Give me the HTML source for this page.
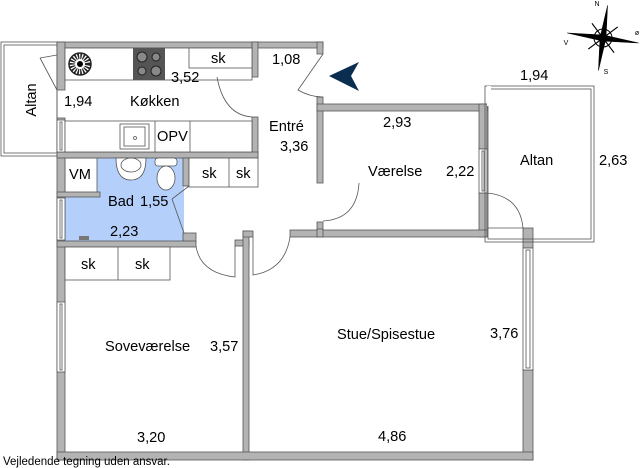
<!DOCTYPE html>
<html><head><meta charset="utf-8"><style>
body{margin:0;background:#fff;}
svg{display:block;font-family:"Liberation Sans",Arial,sans-serif;}
.w{fill:#b3b3b3;stroke:#555;stroke-width:0.8}
.t{fill:none;stroke:#555;stroke-width:0.8}
.f{fill:#fff;stroke:#555;stroke-width:0.8}
text{font-size:14.6px;fill:#000}
</style></head><body>
<svg width="640" height="468" viewBox="0 0 640 468" xmlns="http://www.w3.org/2000/svg">
<rect x="1" y="42" width="56" height="114" class="f"/>
<rect x="4" y="45" width="53" height="108" class="t"/>
<text x="36" y="100" transform="rotate(-90 36 100)" text-anchor="middle">Altan</text>
<line x1="57" y1="55" x2="40" y2="58" class="t"/>
<path d="M40 58 L57 90" class="t"/>
<rect x="65" y="158" width="119" height="83" fill="#b4d0fa"/>
<rect x="65" y="158" width="32" height="35" class="f"/>
<rect x="57" y="42" width="201" height="6" class="w"/>
<rect x="252" y="42" width="71" height="6" class="w"/>
<rect x="57" y="42" width="8" height="48" class="w"/>
<rect x="57" y="118" width="8" height="342" class="w"/>
<rect x="252" y="42" width="6" height="35" class="w"/>
<rect x="252" y="117" width="6" height="41" class="w"/>
<rect x="57" y="152" width="201" height="6" class="w"/>
<rect x="57" y="192" width="43" height="5" class="w"/>
<rect x="183" y="158" width="6" height="28" class="w"/>
<rect x="183" y="233" width="13" height="9" class="w"/>
<rect x="57" y="241" width="139" height="6" class="w"/>
<rect x="317" y="42" width="6" height="12" class="w"/>
<rect x="317" y="97" width="6" height="86" class="w"/>
<rect x="317" y="222" width="6" height="14" class="w"/>
<rect x="317" y="104" width="170" height="7" class="w"/>
<rect x="479" y="104" width="8" height="45" class="w"/>
<rect x="479" y="193" width="8" height="44" class="w"/>
<rect x="290" y="230" width="197" height="7" class="w"/>
<rect x="317" y="229" width="6" height="8" class="w"/>
<rect x="235" y="240" width="14" height="6" class="w"/>
<rect x="243" y="231" width="6" height="229" class="w"/>
<rect x="243" y="231" width="10" height="6" class="w"/>
<rect x="523" y="228" width="10" height="20" class="w"/>
<rect x="523" y="370" width="10" height="90" class="w"/>
<rect x="57" y="452" width="476" height="8" class="w"/>
<rect x="57" y="120" width="8" height="32" class="f"/><rect x="60" y="122" width="2" height="28" class="t"/>
<rect x="57" y="198" width="8" height="42" class="f"/><rect x="60" y="200" width="2" height="38" class="t"/>
<rect x="57" y="302" width="8" height="70" class="f"/><rect x="60" y="304" width="2" height="66" class="t"/>
<rect x="479" y="149" width="8" height="44" class="f"/><rect x="482" y="151" width="2" height="40" class="t"/>
<rect x="523" y="248" width="10" height="122" class="f"/><rect x="526" y="250" width="4" height="118" class="t"/>
<rect x="485" y="86" width="109" height="156" class="t"/>
<rect x="488" y="89" width="103" height="150" class="t"/>
<rect x="487" y="86" width="4" height="20" fill="#fff"/>
<rect x="65" y="48" width="187" height="32" class="f"/>
<rect x="189" y="48" width="63" height="20" class="f"/>
<rect x="133" y="48" width="32" height="32" fill="#555"/>
<circle cx="142" cy="57" r="5" fill="#888" stroke="#222"/><circle cx="156" cy="57" r="4" fill="#888" stroke="#222"/>
<circle cx="142" cy="71" r="4" fill="#888" stroke="#222"/><circle cx="156" cy="71" r="5" fill="#888" stroke="#222"/>
<circle cx="80" cy="64" r="11" fill="#fff" stroke="#222" stroke-width="1.5"/>
<circle cx="80" cy="64" r="8" fill="none" stroke="#222" stroke-width="6" stroke-dasharray="1.5 1.2"/>
<circle cx="80" cy="64" r="3" fill="#000"/>
<rect x="65" y="121" width="187" height="31" class="f"/>
<rect x="120" y="124" width="29" height="25" class="f"/><rect x="124" y="127" width="21" height="19" class="t"/>
<circle cx="135" cy="138" r="1.5" class="t"/>
<line x1="155" y1="121" x2="155" y2="152" class="t"/><line x1="190" y1="121" x2="190" y2="152" class="t"/>
<path d="M116 158 L146 158 Q146 180 131 180 Q116 180 116 158Z" class="f"/>
<ellipse cx="131" cy="165" rx="10" ry="7" class="t"/>
<rect x="155" y="158" width="22" height="8" rx="3" class="f"/>
<ellipse cx="166" cy="178" rx="9" ry="12" class="f"/>
<rect x="189" y="158" width="69" height="29" class="f"/>
<line x1="229" y1="158" x2="229" y2="187" class="t"/>
<rect x="65" y="247" width="105" height="33" class="f"/><line x1="118" y1="247" x2="118" y2="280" class="t"/>
<rect x="79" y="236" width="10" height="4" fill="#777"/>
<path d="M217 77 Q224 115 252 117" class="t"/>
<path d="M323 54 L298 90 Q310 97 323 97" class="t"/>
<path d="M189 186 L172 199 L184 233" class="t"/>
<path d="M196 246 Q200 273 235 277 L235 246" class="t"/>
<path d="M253 237 L253 275 Q285 270 290 237" class="t"/>
<path d="M359 183 Q357 219 323 221" class="t"/>
<path d="M487 193 Q520 196 523 228 L487 228" class="t"/>
<path d="M359 62 L329 76 L359 91 L351 76Z" fill="#0b2d4f"/>
<g transform="translate(603,38) rotate(8)" fill="#000" stroke="#000">
<path d="M0 -33 L3 0 L0 33 L-3 0Z" stroke-width="0.5"/>
<path d="M-36 0 L0 -3 L36 0 L0 3Z" stroke-width="0.5"/>
<path d="M-13 -13 L13 13 M13 -13 L-13 13" stroke-width="1.2"/>
<circle r="9" fill="none" stroke-width="1"/>
<circle r="4"/>
</g>
<text x="597" y="6" style="font-size:7px" text-anchor="middle">N</text>
<text x="606" y="74" style="font-size:7px" text-anchor="middle">S</text>
<text x="566" y="45" style="font-size:7px" text-anchor="middle">V</text>
<text x="637" y="35" style="font-size:7px" text-anchor="middle">ø</text>
<text x="211" y="63">sk</text>
<text x="171" y="82">3,52</text>
<text x="64" y="106">1,94</text>
<text x="130" y="106">Køkken</text>
<text x="157" y="141">OPV</text>
<text x="272" y="64">1,08</text>
<text x="269" y="131">Entré</text>
<text x="280" y="151">3,36</text>
<text x="69" y="179">VM</text>
<text x="202" y="178">sk</text><text x="236" y="178">sk</text>
<text x="108" y="206">Bad</text><text x="140" y="206">1,55</text>
<text x="110" y="236">2,23</text>
<text x="81" y="269">sk</text><text x="135" y="269">sk</text>
<text x="383" y="127">2,93</text>
<text x="368" y="176">Værelse</text>
<text x="446" y="176">2,22</text>
<text x="520" y="80">1,94</text>
<text x="520" y="165">Altan</text>
<text x="599" y="165">2,63</text>
<text x="105" y="351">Soveværelse</text>
<text x="210" y="351">3,57</text>
<text x="337" y="339">Stue/Spisestue</text>
<text x="490" y="338">3,76</text>
<text x="137" y="442">3,20</text>
<text x="378" y="441">4,86</text>
<text x="3" y="465" style="font-size:11.5px">Vejledende tegning uden ansvar.</text>
</svg>
</body></html>
